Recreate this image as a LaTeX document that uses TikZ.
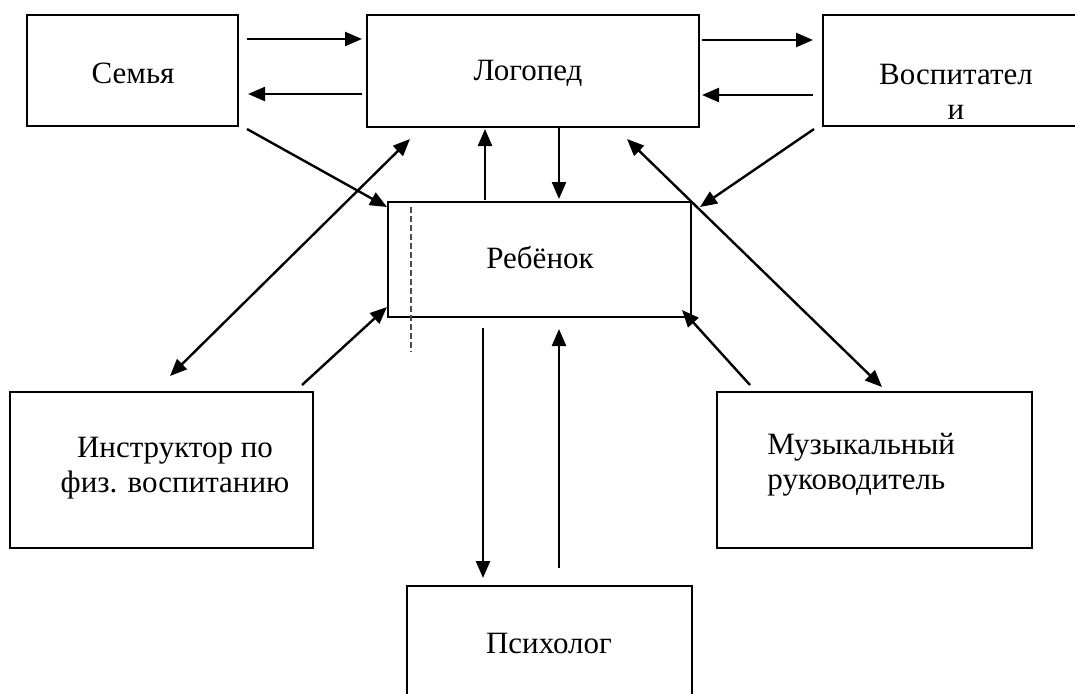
\documentclass[tikz,border=0pt]{standalone}
\usepackage{fontspec}
\setmainfont{Liberation Serif}
\usetikzlibrary{arrows.meta}
\tikzset{
  box/.style={draw=black, line width=1.2pt, rectangle, inner sep=0pt},
  lbl/.style={font=\fontsize{15.5}{17.5}\selectfont, inner sep=0pt, align=center},
  arr/.style={line width=1.2pt, -{Triangle[length=8.5pt,width=7pt]}},
  darr/.style={line width=1.2pt, {Triangle[length=8.5pt,width=7pt]}-{Triangle[length=8.5pt,width=7pt]}},
  guide/.style={draw=black!70, line width=0.7pt, dash pattern=on 3pt off 1.5pt}
}
\begin{document}
\begin{tikzpicture}[x=0.5pt,y=-0.5pt]
\useasboundingbox (0,0) rectangle (1075,693);
\clip (0,0) rectangle (1075,693);
% boxes
\node[box, minimum width=105.5pt, minimum height=55.5pt] (semya) at (132.5,70.5) {};
\node[box, minimum width=166pt, minimum height=56pt] (logoped) at (533,71) {};
\node[box, minimum width=133pt, minimum height=55.5pt] (vosp) at (956,70.5) {};
\node[box, minimum width=151.5pt, minimum height=57.5pt] (reb) at (539.5,259.5) {};
\node[box, minimum width=151.5pt, minimum height=78pt] (instr) at (161.5,470) {};
\node[box, minimum width=157.5pt, minimum height=78pt] (music) at (874.5,470) {};
\node[box, minimum width=142.5pt, minimum height=60pt] (psych) at (549.5,646) {};
% texts
\node[lbl] (tsemya) at (133,73) {Семья};
\node[lbl] (tlogoped) at (528,73) {Логопед};
\node[lbl] (tvosp) at (956,92) {Воспитател\\и};
\node[lbl] (treb) at (540,258) {Ребёнок};
\node[lbl] (tinstr) at (175,468) {Инструктор по\\физ. воспитанию};
\node[lbl, align=left, anchor=west] (tmusic) at (767,465) {Музыкальный\\руководитель};
\node[lbl] (tpsych) at (549,643) {Психолог};
% dashed guide
\coordinate (g1) at (411,207);
\coordinate (g2) at (411,352);
\draw[guide] (g1) -- (g2);
% connector end points
\coordinate (a1s) at (247,39);  \coordinate (a1e) at (362,39);
\coordinate (a2s) at (362,94);  \coordinate (a2e) at (248,94);
\coordinate (a3s) at (702,40);  \coordinate (a3e) at (813,40);
\coordinate (a4s) at (813,95);  \coordinate (a4e) at (702,95);
\coordinate (a5s) at (485,200); \coordinate (a5e) at (485,129);
\coordinate (a6s) at (559,127); \coordinate (a6e) at (559,199);
\coordinate (a7s) at (247,129); \coordinate (a7e) at (387,207);
\coordinate (a8s) at (170,376); \coordinate (a8e) at (410,139);
\coordinate (a9s) at (302,385); \coordinate (a9e) at (387,307);
\coordinate (a10s) at (814,129); \coordinate (a10e) at (700,207);
\coordinate (a11s) at (627,139); \coordinate (a11e) at (882,387);
\coordinate (a12s) at (750,385); \coordinate (a12e) at (682,310);
\coordinate (a13s) at (483,328); \coordinate (a13e) at (483,578);
\coordinate (a14s) at (559,568); \coordinate (a14e) at (559,329);
% connectors
\draw[arr] (a1s) -- (a1e);
\draw[arr] (a2s) -- (a2e);
\draw[arr] (a3s) -- (a3e);
\draw[arr] (a4s) -- (a4e);
\draw[arr] (a5s) -- (a5e);
\draw[arr] (a6s) -- (a6e);
\draw[arr] (a7s) -- (a7e);
\draw[darr] (a8s) -- (a8e);
\draw[arr] (a9s) -- (a9e);
\draw[arr] (a10s) -- (a10e);
\draw[darr] (a11s) -- (a11e);
\draw[arr] (a12s) -- (a12e);
\draw[arr] (a13s) -- (a13e);
\draw[arr] (a14s) -- (a14e);
\end{tikzpicture}
\end{document}
